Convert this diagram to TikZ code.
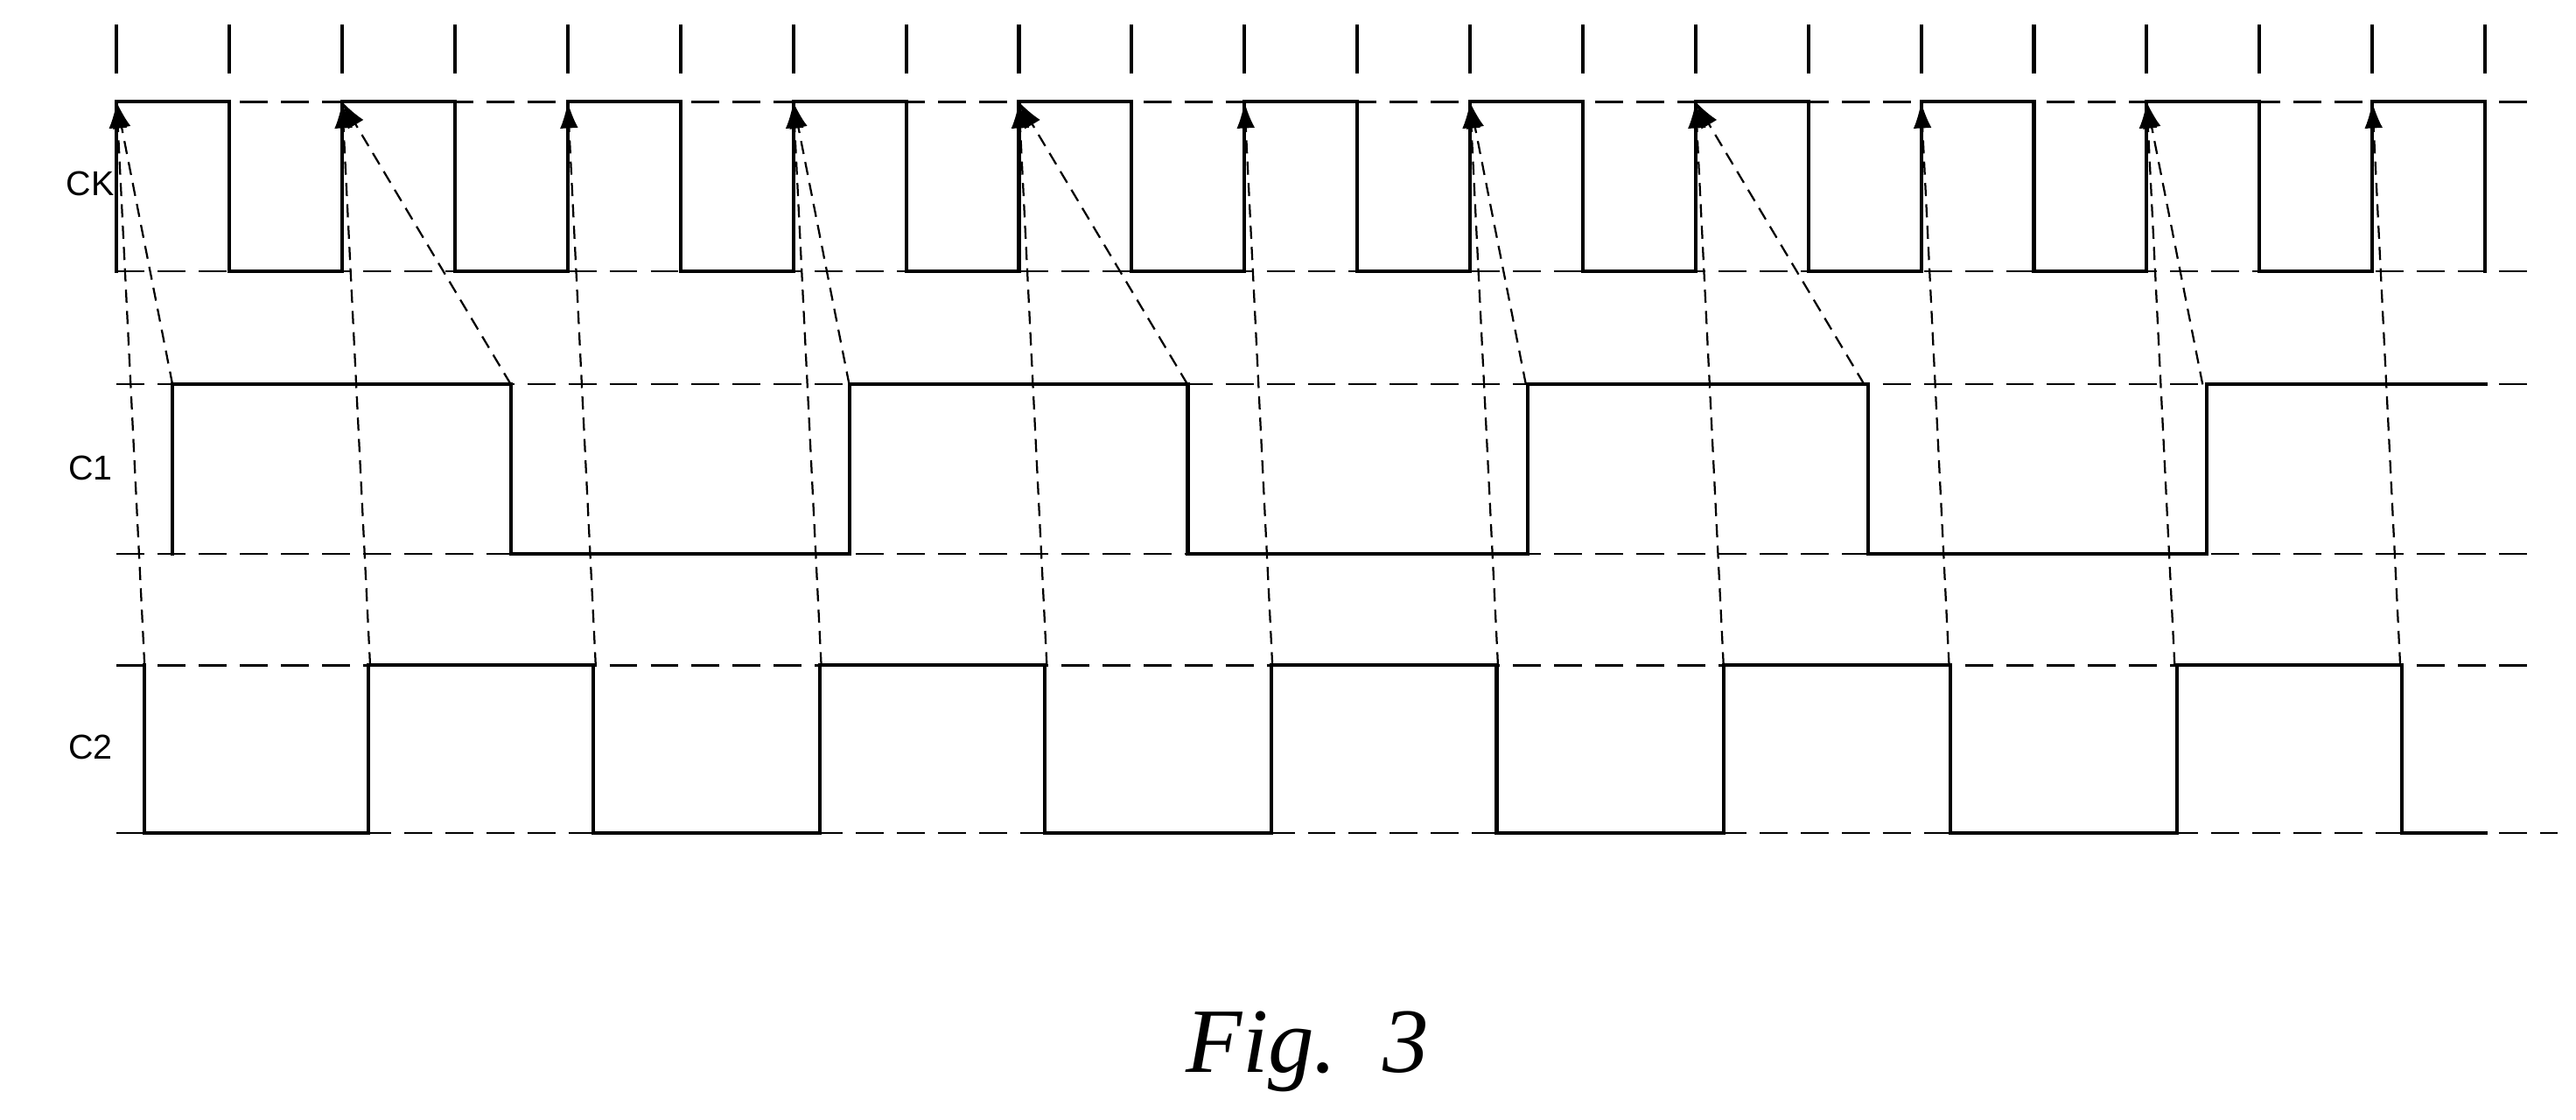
\documentclass[tikz,border=0pt]{standalone}
\usepackage{fontspec}
\setmainfont{Liberation Serif}
\setsansfont{Liberation Sans}
\usetikzlibrary{arrows.meta}
\begin{document}
\begin{tikzpicture}[x=1pt,y=-1pt,
  sig/.style={line width=2.2pt,line cap=rect},
  grid/.style={line width=1.2pt,dash pattern=on 17pt off 8pt},
  link/.style={line width=1.2pt,dash pattern=on 8pt off 5pt,-{Latex[length=16pt,width=11pt]}},
  lab/.style={font=\sffamily\fontsize{21}{21}\selectfont}]
\useasboundingbox (0,0) rectangle (1568,681.7);
\def\p{68.65}
% ticks
\foreach \k in {0,...,21} \draw[line width=2.2pt] (71+\k*\p,15) -- (71+\k*\p,45);
% reference dashed lines
\draw[grid] (71,62) -- (1541,62);
\draw[grid] (71,165) -- (1541,165);
\draw[grid] (71,234) -- (1541,234);
\draw[grid] (71,337) -- (1541,337);
\draw[grid] (71,405) -- (1541,405);
\draw[grid] (71,507) -- (1557,507);
% CK
\foreach \k in {0,2,...,18}
  \draw[sig] (71+\k*\p,165) -- (71+\k*\p,62) -- (71+\k*\p+\p,62) -- (71+\k*\p+\p,165) -- (71+\k*\p+2*\p,165);
\draw[sig] (71+20*\p,165) -- (71+20*\p,62) -- (71+21*\p,62) -- (71+21*\p,165);
% C1
\draw[sig] (105,337) -- (105,234) -- (311,234) -- (311,337) -- (517,337) -- (517,234) -- (723,234) -- (723,337) -- (930,337) -- (930,234) -- (1137,234) -- (1137,337) -- (1343,337) -- (1343,234) -- (1513,234);
% C2
\draw[sig] (88,405) -- (88,507) -- (224,507) -- (224,405) -- (361,405) -- (361,507) -- (499,507) -- (499,405) -- (636,405) -- (636,507) -- (774,507) -- (774,405) -- (911,405) -- (911,507) -- (1049,507) -- (1049,405) -- (1187,405) -- (1187,507) -- (1325,507) -- (1325,405) -- (1462,405) -- (1462,507) -- (1513,507);
% causal arrows C1 -> CK
\foreach \a/\b in {0/0,3/2,6/6,9/8,12/12,15/14,18/18}
  \draw[link] (71+\a*\p+34,234) -- (71+\b*\p,62);
% causal arrows C2 -> CK
\foreach \k in {0,2,...,20}
  \draw[link] (71+\k*\p+17,405) -- (71+\k*\p,62);
% labels
\node[lab] (ck) at (55,112) {CK};
\node[lab] (c1) at (55,285) {C1};
\node[lab] (c2) at (55,455) {C2};
\node[font=\itshape\fontsize{56}{56}\selectfont] (fig) at (796,640) {Fig.\ \ 3};
\end{tikzpicture}
\end{document}
